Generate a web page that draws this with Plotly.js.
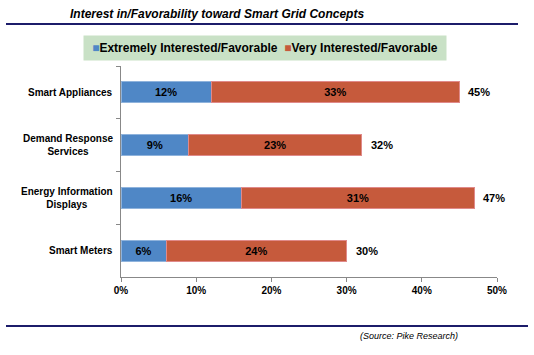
<!DOCTYPE html>
<html>
<head>
<meta charset="utf-8">
<script src="https://cdn.plot.ly/plotly-3.0.1.min.js"></script>
<style>html,body{margin:0;padding:0;background:#fff;}#chart{width:534px;height:355px;}</style>
</head>
<body>
<div id="chart"></div>
<script>
const categories = ["Smart Appliances", "Demand Response<br>Services", "Energy Information<br>Displays", "Smart Meters"];
const extremely = [12, 9, 16, 6];
const very = [33, 23, 31, 24];
const totals = [45, 32, 47, 30];
const seriesNames = ["Extremely Interested/Favorable", "Very Interested/Favorable"];
const xTicks = [0, 10, 20, 30, 40, 50];

const FONT = "Liberation Sans, Arial, sans-serif";
const colors = ["#4f87c6", "#c65a3c"];
const edges = ["#8fb3dc", "#e08a8a"];
const series = [extremely, very];

const data = series.map((vals, i) => ({
  type: "bar", orientation: "h", name: seriesNames[i], y: categories, x: vals,
  marker: {color: colors[i], line: {color: edges[i], width: 1}},
  text: vals.map(v => "<b>" + v + "%</b>"), texttemplate: "%{text}",
  textposition: "inside", insidetextanchor: "middle", constraintext: "none",
  textfont: {family: FONT, size: 11, color: "#000"}, hoverinfo: "none", showlegend: false
}));

const L = 121, R = 497, T = 66, B = 277;
const px = v => (v - L) / (R - L);
const py = v => (B - v) / (B - T);

const annotations = categories.map(c => ({
  xref: "paper", yref: "y", x: px(115), y: c, xanchor: "right", yanchor: "middle",
  text: "<b>" + c + "</b>", showarrow: false, align: "center",
  font: {family: FONT, size: 10, color: "#000"}
}));
totals.forEach((t, i) => annotations.push({
  xref: "x", yref: "y", x: t, y: categories[i], xanchor: "left", yanchor: "middle", xshift: 7,
  text: "<b>" + t + "%</b>", showarrow: false,
  font: {family: FONT, size: 11, color: "#000"}
}));
annotations.push({
  xref: "paper", yref: "paper", x: px(358), y: py(336), xanchor: "left", yanchor: "middle",
  text: "<i>(Source: Pike Research)</i>", showarrow: false,
  font: {family: FONT, size: 9, color: "#000"}
});
// legend box
annotations.push({
  xref: "paper", yref: "paper", x: px(83), y: py(35), xanchor: "left", yanchor: "top",
  width: 358, height: 20, borderpad: 2, bgcolor: "#c9e1c6", align: "center", showarrow: false,
  text: seriesNames.map((n, i) => "<span style='color:" + colors[i] + "'>■</span><b>" + n + "</b>").join("&nbsp;&nbsp;"),
  font: {family: FONT, size: 12, color: "#000"}
});

const layout = {
  width: 534, height: 355,
  margin: {l: L, r: 534 - R, t: T, b: 355 - B},
  paper_bgcolor: "#fff", plot_bgcolor: "#fff",
  barmode: "stack", bargap: 0.6,
  showlegend: false,
  title: {text: "<b><i>Interest in/Favorability toward Smart Grid Concepts</i></b>", xref: "container", yref: "container",
          x: 70 / 534, xanchor: "left", y: 1 - 14 / 355, yanchor: "middle",
          font: {family: FONT, size: 12, color: "#000"}},
  xaxis: {range: [0, 50], tickvals: xTicks, ticktext: xTicks.map(v => "<b>" + v + "%</b>"),
          showgrid: false, zeroline: false,
          showline: true, linecolor: "#888", linewidth: 1, ticks: "outside", ticklen: 4, tickcolor: "#888",
          tickfont: {family: FONT, size: 10, color: "#000"}, fixedrange: true},
  yaxis: {autorange: "reversed", showticklabels: false, showgrid: false, zeroline: false,
          showline: true, linecolor: "#888", linewidth: 1, ticks: "outside", ticklen: 4, tickcolor: "#888",
          tickson: "boundaries", fixedrange: true},
  annotations: annotations,
  shapes: [
    {type: "line", xref: "paper", yref: "paper", x0: px(6), x1: px(518), y0: py(24), y1: py(24),
     line: {color: "#1c1c6a", width: 2}},
    {type: "line", xref: "paper", yref: "paper", x0: px(6), x1: px(528), y0: py(326), y1: py(326),
     line: {color: "#1c1c6a", width: 2}}
  ]
};

Plotly.newPlot("chart", data, layout, {displayModeBar: false, staticPlot: true});
</script>
</body>
</html>
